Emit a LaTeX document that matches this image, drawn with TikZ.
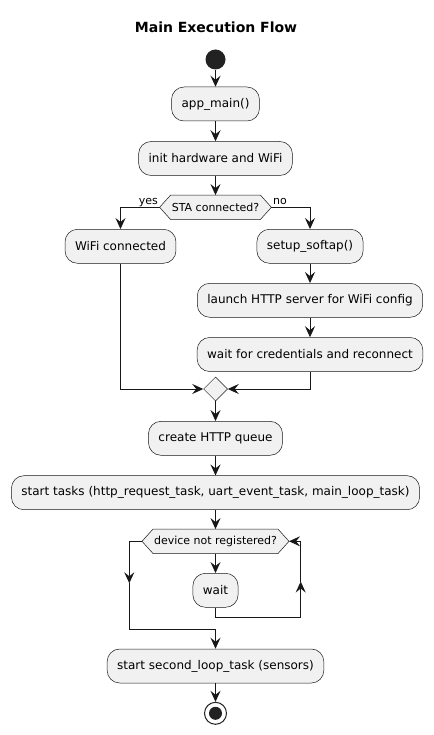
\documentclass[tikz,border=0pt]{standalone}
\usepackage{fontspec}
\setmainfont{DejaVu Sans}
\usetikzlibrary{arrows.meta,shapes.geometric,backgrounds}
\definecolor{boxfill}{HTML}{F1F1F1}
\definecolor{ink}{HTML}{181818}
\definecolor{dot}{HTML}{222222}
\begin{document}
\begin{tikzpicture}[x=1pt,y=-1pt,
  act/.style={draw=ink, line width=0.5pt, fill=boxfill, rounded corners=12.5pt, minimum height=34pt, inner xsep=10pt, inner ysep=0pt, font=\fontsize{12}{14}\selectfont, text=black},
  hexnode/.style={minimum height=24pt, inner sep=0pt, font=\fontsize{11}{13}\selectfont},
  hexline/.style={draw=ink, line width=0.5pt, fill=boxfill},
  arr/.style={draw=ink, line width=1pt, -{Stealth[length=11pt,width=10pt,inset=4pt]}},
  ln/.style={draw=ink, line width=1pt},
  lbl/.style={font=\fontsize{11}{13}\selectfont, inner sep=0pt},
]
\useasboundingbox (0,0) rectangle (433,735);

\node[font=\bfseries\fontsize{14}{16}\selectfont, anchor=base, inner sep=0pt] (title) at (216,33) {Main Execution Flow};

\node[circle, fill=dot, minimum size=20pt, inner sep=0pt] (start) at (215.5,59.5) {};
\node[act] (app) at (215.5,104) {app\_main()};
\node[act] (init) at (215.5,158.5) {init hardware and WiFi};
\node[hexnode, minimum width=111.4pt] (d1) at (215.5,207.3) {STA connected?};
\node[act] (wifi) at (120.5,246.3) {WiFi connected};
\node[act] (soft) at (310,246.3) {setup\_softap()};
\node[act] (launch) at (310,300.3) {launch HTTP server for WiFi config};
\node[act] (waitc) at (310,354.5) {wait for credentials and reconnect};
\node[diamond, draw=ink, line width=0.5pt, fill=boxfill, minimum width=24pt, minimum height=24pt, inner sep=0pt] (merge) at (215.5,389) {};
\node[act] (queue) at (215.5,438.3) {create HTTP queue};
\node[act] (tasks) at (215.5,492.7) {start tasks (http\_request\_task, uart\_event\_task, main\_loop\_task)};
\node[hexnode, minimum width=146.6pt] (d2) at (215.5,541.3) {device not registered?};
\node[act] (wait) at (215.5,590.3) {wait};
\node[act] (second) at (215.5,666) {start second\_loop\_task (sensors)};
\node[circle, draw=dot, line width=1pt, fill=white, minimum size=22pt, inner sep=0pt] (stop) at (215.5,713.3) {};
\node[circle, fill=dot, minimum size=13pt, inner sep=0pt] (stopdot) at (stop) {};

\begin{scope}[on background layer]
\fill[white] (0,0) rectangle (433,735);
\draw[hexline] (d1.west) -- ([xshift=11pt]d1.north west) -- ([xshift=-11pt]d1.north east) -- (d1.east) -- ([xshift=-11pt]d1.south east) -- ([xshift=11pt]d1.south west) -- cycle;
\draw[hexline] (d2.west) -- ([xshift=11pt]d2.north west) -- ([xshift=-11pt]d2.north east) -- (d2.east) -- ([xshift=-11pt]d2.south east) -- ([xshift=11pt]d2.south west) -- cycle;
\end{scope}

\node[lbl, anchor=base east] (yes) at ([xshift=-1.5pt,yshift=3pt]d1.west) {yes};
\node[lbl, anchor=base west] (no) at ([xshift=1.5pt,yshift=3pt]d1.east) {no};

\coordinate (rbot) at (215.5,617.3);
\coordinate (rmid) at (300.7,581.5);
\coordinate (rcorner) at (300.7,617.3);
\coordinate (lmid) at (129.3,583.3);
\coordinate (lcorner) at (129.3,629.3);
\coordinate (ljoin) at (215.5,629.3);

\draw[arr] (start) -- (app);
\draw[arr] (app) -- (init);
\draw[arr] (init) -- (d1.north);
\draw[arr] (d1.west) -| (wifi.north);
\draw[arr] (d1.east) -| (soft.north);
\draw[arr] (soft) -- (launch);
\draw[arr] (launch) -- (waitc);
\draw[arr] (wifi.south) |- (merge.west);
\draw[arr] (waitc.south) |- (merge.east);
\draw[arr] (merge.south) -- (queue);
\draw[arr] (queue) -- (tasks);
\draw[arr] (tasks) -- (d2.north);
\draw[arr] (d2.south) -- (wait);
\draw[arr] (wait.south) -- (rbot) -- (rcorner) -- (rmid);
\draw[arr] (rmid) |- (d2.east);
\draw[arr] (d2.west) -| (lmid);
\draw[arr] (lmid) -- (lcorner) -- (ljoin) -- (second.north);
\draw[arr] (second) -- (stop);
\end{tikzpicture}
\end{document}
